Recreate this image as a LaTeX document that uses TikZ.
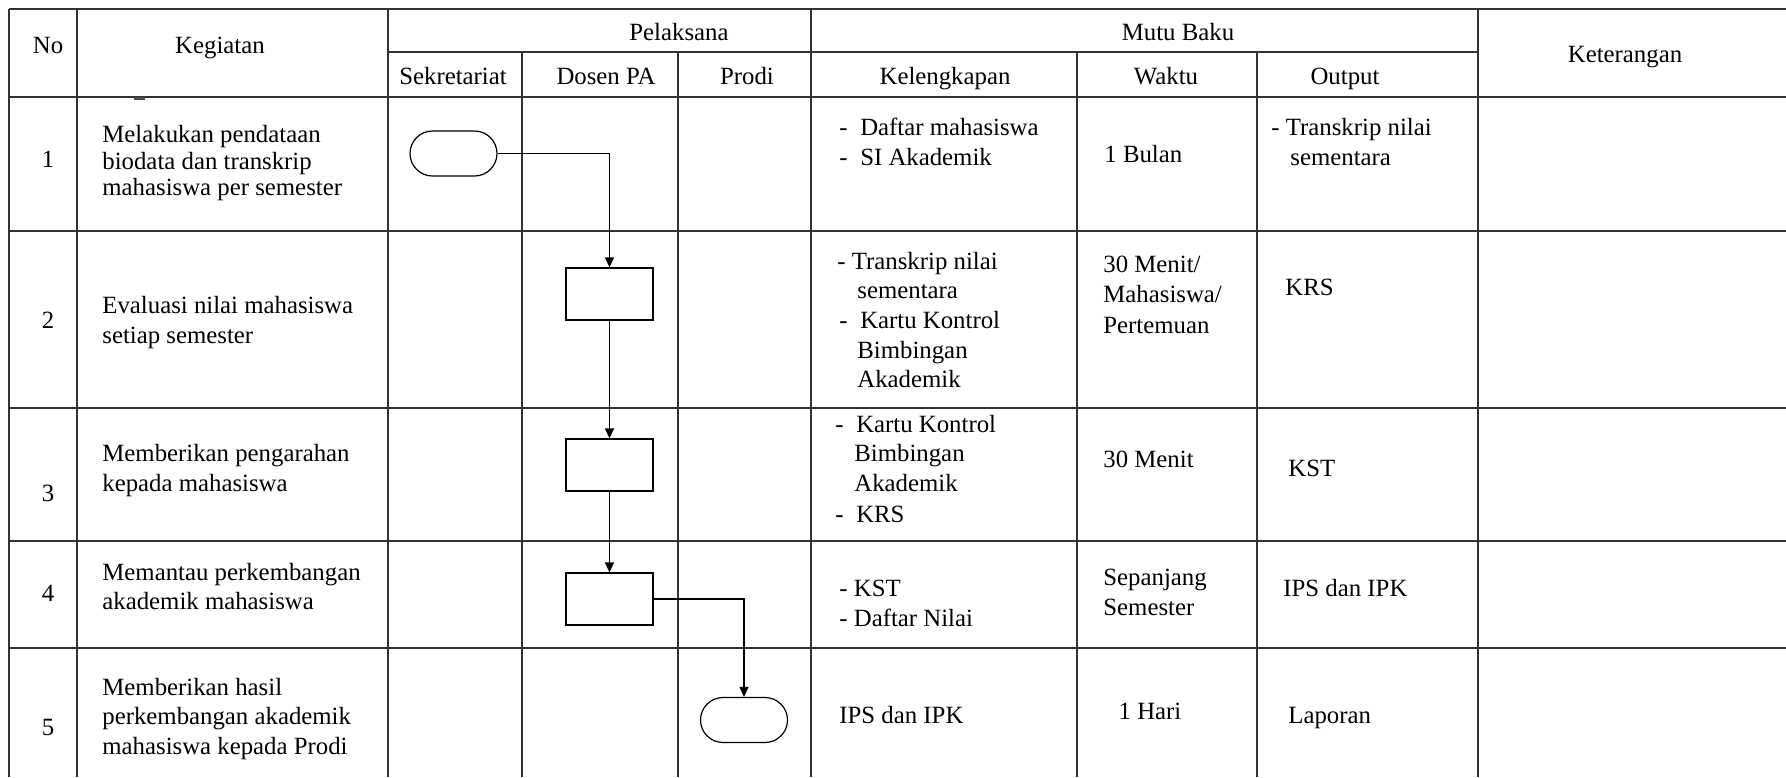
\documentclass[tikz,border=0pt]{standalone}
\usepackage{fontspec}
\setmainfont{Liberation Serif}
\usetikzlibrary{arrows.meta}
\begin{document}
\begin{tikzpicture}[x=0.5pt,y=-0.5pt,
  grid/.style={draw=black!80,line width=0.6pt},
  txt/.style={anchor=base west,inner sep=0pt,font=\fontsize{12.4}{14}\selectfont},
  ctxt/.style={anchor=base,inner sep=0pt,font=\fontsize{12.4}{14}\selectfont},
  term/.style={draw,line width=0.6pt,minimum width=43.5pt,minimum height=22.5pt,rounded corners=11.25pt,inner sep=0pt},
  proc/.style={draw,line width=0.6pt,minimum width=43.5pt,minimum height=26pt,inner sep=0pt},
  flow/.style={line width=0.6pt,-{Triangle[length=5pt,width=4.5pt]}}]
\useasboundingbox (0,0) rectangle (1786,777);
% grid
\draw[grid] (9,9) -- (1786,9);
\draw[grid] (388,52) -- (1478,52);
\foreach \yy in {97,231,408,541,648} \draw[grid] (9,\yy) -- (1786,\yy);
\foreach \xx in {9,77,388,811,1478} \draw[grid] (\xx,9) -- (\xx,777);
\foreach \xx in {522,678,1077,1257} \draw[grid] (\xx,52) -- (\xx,777);
\draw[line width=1.2pt,black!70] (134,98.5) -- (145,98.5);
% header
\node[ctxt] (hno) at (48,53) {No};
\node[ctxt] (hkeg) at (220,53) {Kegiatan};
\node[ctxt] (hpel) at (679,40) {Pelaksana};
\node[ctxt] (hmutu) at (1178,40) {Mutu Baku};
\node[ctxt] (hket) at (1625,62) {Keterangan};
\node[ctxt] (hsek) at (453,84) {Sekretariat};
\node[ctxt] (hdos) at (606,84) {Dosen PA};
\node[ctxt] (hpro) at (747,84) {Prodi};
\node[ctxt] (hkel) at (945,84) {Kelengkapan};
\node[ctxt] (hwak) at (1166,84) {Waktu};
\node[ctxt] (hout) at (1345,84) {Output};
% numbers
\node[ctxt] (n1) at (48,167) {1};
\node[ctxt] (n2) at (48,328) {2};
\node[ctxt] (n3) at (48,501) {3};
\node[ctxt] (n4) at (48,601) {4};
\node[ctxt] (n5) at (48,735) {5};
% kegiatan
\node[txt] (k1a) at (102,142) {Melakukan pendataan};
\node[txt] (k1b) at (102,169) {biodata dan transkrip};
\node[txt] (k1c) at (102,195) {mahasiswa per semester};
\node[txt] (k2a) at (102,313) {Evaluasi nilai mahasiswa};
\node[txt] (k2b) at (102,343) {setiap semester};
\node[txt] (k3a) at (102,461) {Memberikan pengarahan};
\node[txt] (k3b) at (102,491) {kepada mahasiswa};
\node[txt] (k4a) at (102,580) {Memantau perkembangan};
\node[txt] (k4b) at (102,609) {akademik mahasiswa};
\node[txt] (k5a) at (102,695) {Memberikan hasil};
\node[txt] (k5b) at (102,724) {perkembangan akademik};
\node[txt] (k5c) at (102,754) {mahasiswa kepada Prodi};
% kelengkapan
\node[txt] (l1a) at (839,135.5) {-\hspace{6.3pt}Daftar mahasiswa};
\node[txt] (l1b) at (839,165) {-\hspace{6.3pt}SI Akademik};
\node[txt] (l2a) at (837,269) {- Transkrip nilai};
\node[txt] (l2b) at (857,298) {sementara};
\node[txt] (l2c) at (839,328) {-\hspace{6.3pt}Kartu Kontrol};
\node[txt] (l2d) at (857,358) {Bimbingan};
\node[txt] (l2e) at (857,387) {Akademik};
\node[txt] (l3a) at (835,432) {-\hspace{6.3pt}Kartu Kontrol};
\node[txt] (l3b) at (854,461) {Bimbingan};
\node[txt] (l3c) at (854,491) {Akademik};
\node[txt] (l3d) at (835,522) {-\hspace{6.3pt}KRS};
\node[txt] (l4a) at (839,596) {- KST};
\node[txt] (l4b) at (839,626) {- Daftar Nilai};
\node[txt] (l5a) at (839,723) {IPS dan IPK};
% waktu
\node[txt] (w1) at (1104,162) {1 Bulan};
\node[txt] (w2a) at (1103,272) {30 Menit/};
\node[txt] (w2b) at (1103,302) {Mahasiswa/};
\node[txt] (w2c) at (1103,333) {Pertemuan};
\node[txt] (w3) at (1103,467) {30 Menit};
\node[txt] (w4a) at (1103,585) {Sepanjang};
\node[txt] (w4b) at (1103,615) {Semester};
\node[ctxt] (w5) at (1150,719) {1 Hari};
% output
\node[txt] (o1a) at (1271,135.5) {- Transkrip nilai};
\node[txt] (o1b) at (1290,165) {sementara};
\node[txt] (o2) at (1285,295) {KRS};
\node[txt] (o3) at (1288,476) {KST};
\node[txt] (o4) at (1283,596) {IPS dan IPK};
\node[txt] (o5) at (1288,723) {Laporan};
% flow shapes
\node[term] (t1) at (453.5,153.5) {};
\node[proc] (b2) at (609.5,294) {};
\node[proc] (b3) at (609.5,465) {};
\node[proc] (b4) at (609.5,599) {};
\node[term] (t5) at (744,720) {};
\draw[flow] (t1.east) -| (b2.north);
\draw[flow] (b2.south) -- (b3.north);
\draw[flow] (b3.south) -- (b4.north);
\draw[flow] (b4.east) -| (t5.north);
\end{tikzpicture}
\end{document}
